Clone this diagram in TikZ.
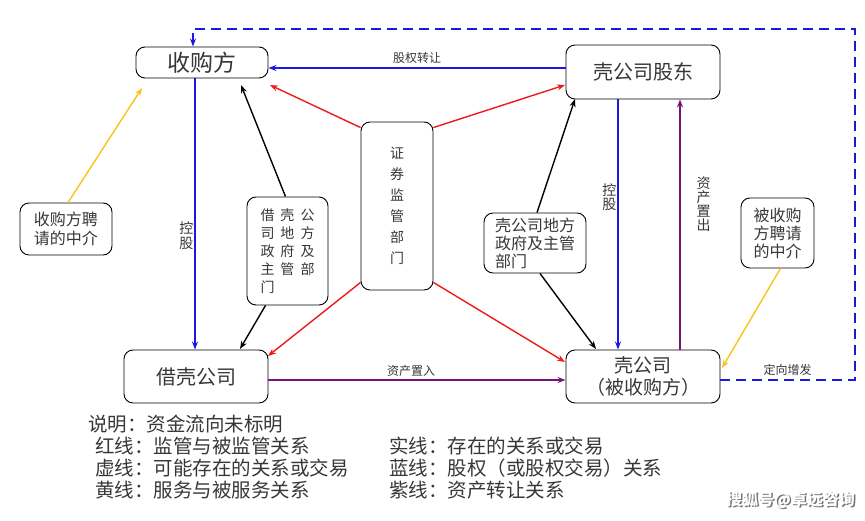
\documentclass[tikz,border=0pt]{standalone}
\usepackage{fontspec}
\setmainfont{Noto Sans CJK SC}
\usetikzlibrary{arrows.meta}
\definecolor{txtgray}{RGB}{55,55,55}
\definecolor{lnblue}{RGB}{25,25,225}
\definecolor{lnred}{RGB}{240,25,25}
\definecolor{lnpurple}{RGB}{115,20,125}
\definecolor{lnyellow}{RGB}{250,195,25}
\newcommand{\fs}[1]{\fontsize{#1}{#1}\selectfont}
\newcommand{\cgap}{\hspace{6pt}}
\tikzset{
  box/.style={draw, rounded corners=9pt, line width=0.9pt, text=txtgray, inner sep=0pt, align=center},
  lbl/.style={text=txtgray, font=\fs{12}, inner sep=1pt, align=center},
  legend/.style={anchor=west, text=txtgray, font=\fs{19.5}, inner sep=0pt},
  rel/.style={line width=1.4pt, -{Stealth[length=8pt,width=6pt]}},
}
\begin{document}
\begin{tikzpicture}[x=1pt,y=-1pt]
\useasboundingbox (0,0) rectangle (865,521);
% main boxes
\node[box, minimum width=132, minimum height=31, font=\fs{23}] (buyer) at (202,62.5) {收购方};
\node[box, minimum width=154, minimum height=54, font=\fs{20}] (holder) at (643,72) {壳公司股东};
\node[box, minimum width=144, minimum height=53, font=\fs{20}] (borrow) at (196,376.5) {借壳公司};
\node[box, minimum width=154, minimum height=53, font=\fs{19}] (shell) at (643,376.5) {壳公司\\[3pt]（被收购方）};
% middle boxes
\node[box, minimum width=72, minimum height=168, font=\fs{14}] (csrc) at (397,206) {证\\[7pt]券\\[7pt]监\\[7pt]管\\[7pt]部\\[7pt]门};
\node[box, minimum width=81, minimum height=108, font=\fs{14}, align=left] (gova) at (287.5,251) {借\cgap 壳\cgap 公\\[4pt]司\cgap 地\cgap 方\\[4pt]政\cgap 府\cgap 及\\[4pt]主\cgap 管\cgap 部\\[4pt]门};
\node[box, minimum width=102, minimum height=60, font=\fs{16}, align=left] (govb) at (535,243) {壳公司地方\\[2pt]政府及主管\\[2pt]部门};
\node[box, minimum width=92, minimum height=52, font=\fs{16}] (agenta) at (66,229) {收购方聘\\[3pt]请的中介};
\node[box, minimum width=73, minimum height=70, font=\fs{16}] (agentb) at (777.5,233) {被收购\\[2pt]方聘请\\[2pt]的中介};
% blue lines
\draw[rel, lnblue] (holder.west |- 0,68) -- node[lbl, above=3pt] {股权转让} (buyer.east |- 0,68);
\draw[rel, lnblue] (195,0 |- buyer.south) -- node[lbl, pos=0.58, left=0pt, font=\fs{14}] {控\\股} (195,0 |- borrow.north);
\draw[rel, lnblue] (618,0 |- holder.south) -- node[lbl, pos=0.39, left=0pt, font=\fs{14}] {控\\股} (618,0 |- shell.north);
\draw[rel, lnblue, dashed, line width=2.2pt, dash pattern=on 10pt off 6pt] (shell.east |- 0,380) -- node[lbl, above=2pt] {定向增发} (855,380) -- (855,29) -- (193,29) -- (193,0 |- buyer.north);
% purple lines
\draw[rel, lnpurple] (680,0 |- shell.north) -- node[lbl, pos=0.58, right=15pt, font=\fs{14}] {资\\产\\置\\出} (680,0 |- holder.south);
\draw[rel, lnpurple] (borrow.east |- 0,380) -- node[lbl, above=2pt, pos=0.48] {资产置入} (shell.west |- 0,380);
% red lines
\draw[rel, lnred] ([yshift=-6pt]csrc.north west) -- (270,85);
\draw[rel, lnred] ([yshift=-6pt]csrc.north east) -- (565,85);
\draw[rel, lnred] ([yshift=8pt]csrc.south west) -- (268,356);
\draw[rel, lnred] ([yshift=8pt]csrc.south east) -- (565,362);
% black lines
\draw[rel, black] ([xshift=-2pt]gova.north) -- (241,85);
\draw[rel, black] ([xshift=-22pt]gova.south) -- (240,349);
\draw[rel, black] ([xshift=2pt]govb.north) -- (575,99);
\draw[rel, black] ([xshift=5pt]govb.south) -- (596,349);
% yellow lines
\draw[rel, lnyellow] ([xshift=2pt]agenta.north) -- (142,88);
\draw[rel, lnyellow] ([xshift=3pt]agentb.south) -- (722,368);
% legend
\node[legend] (note) at (88,424) {说明：资金流向未标明};
\node[legend] (leg1) at (95,446) {红线：监管与被监管关系};
\node[legend] (leg2) at (95,468) {虚线：可能存在的关系或交易};
\node[legend] (leg3) at (95,490) {黄线：服务与被服务关系};
\node[legend] (leg4) at (389,446) {实线：存在的关系或交易};
\node[legend] (leg5) at (389,468) {蓝线：股权（或股权交易）关系};
\node[legend] (leg6) at (389,490) {紫线：资产转让关系};
% watermark
\node[anchor=east, text=black!55, font=\bfseries\fs{16}, inner sep=0pt] (wmshadow) at (856.5,501.5) {搜狐号@卓远咨询};
\node[anchor=east, text=white, font=\bfseries\fs{16}, inner sep=0pt] (wm) at (855,500) {搜狐号@卓远咨询};
\end{tikzpicture}
\end{document}
